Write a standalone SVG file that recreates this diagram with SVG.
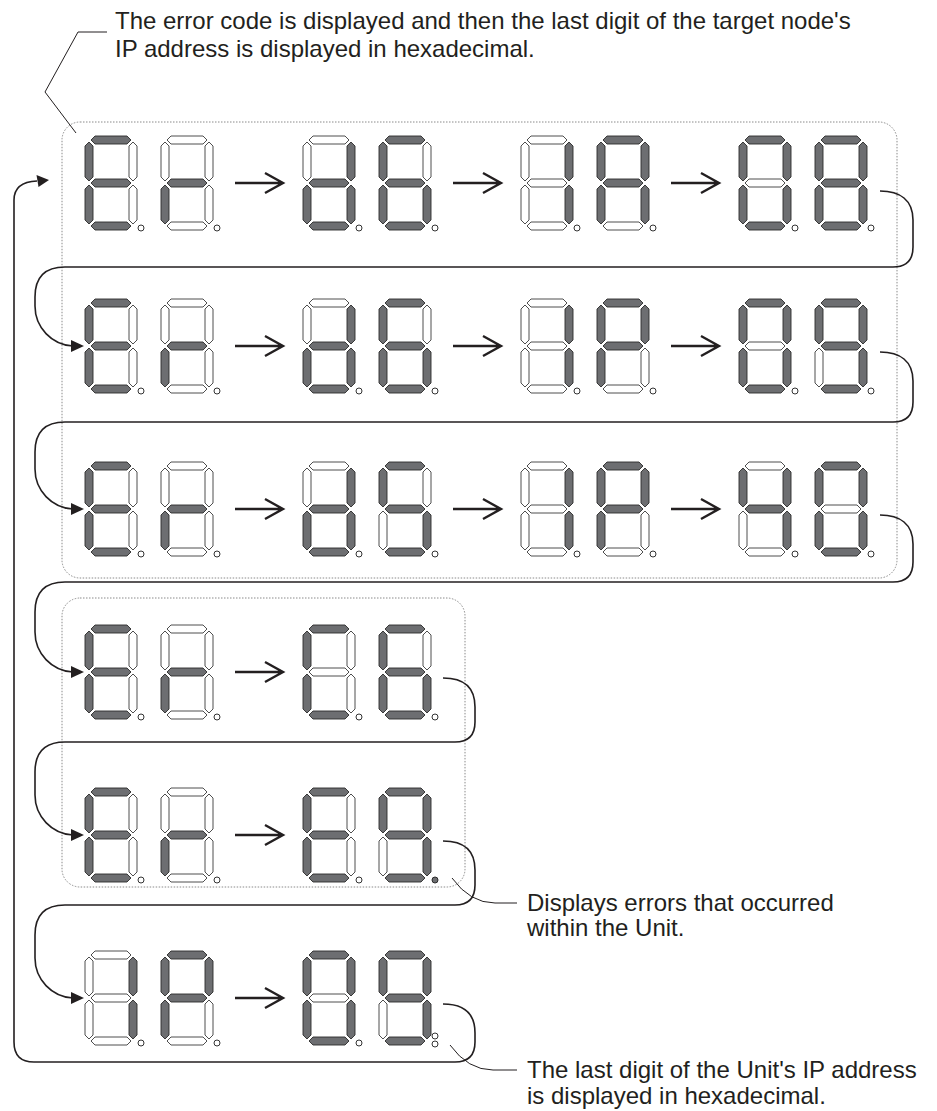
<svg xmlns="http://www.w3.org/2000/svg" xmlns:xlink="http://www.w3.org/1999/xlink" width="937" height="1111" viewBox="0 0 937 1111">
<style>
.on{fill:#6d6e71;stroke:#2b2b2b;stroke-width:0.9}
.off{fill:#fff;stroke:#3a3a3a;stroke-width:0.9}
.dp{fill:#fff;stroke:#333;stroke-width:1}
.dpon{fill:#6d6e71;stroke:#2b2b2b;stroke-width:1}
.con{fill:none;stroke:#231f20;stroke-width:1.6}
.arr{fill:none;stroke:#231f20;stroke-width:2.4}
.head{fill:#231f20;stroke:none}
.box{fill:none;stroke:#8a8a8a;stroke-width:1;stroke-dasharray:1.5 1.5}
.lead{fill:none;stroke:#231f20;stroke-width:1}
.txt{font-family:"Liberation Sans",Arial,sans-serif;font-size:24px;fill:#231f20}
</style>
<defs>
<polygon id="sa" points="6,4 10,0 42,0 46,4 42,8 10,8"/>
<polygon id="sg" points="6,47 10,43 42,43 46,47 42,51 10,51"/>
<polygon id="sd" points="6,90 10,86 42,86 46,90 42,94 10,94"/>
<polygon id="sf" points="4,6 8,10 8,41 4,45 0,41 0,10"/>
<polygon id="sb" points="48,6 52,10 52,41 48,45 44,41 44,10"/>
<polygon id="se" points="4,49 8,53 8,84 4,88 0,84 0,53"/>
<polygon id="sc" points="48,49 52,53 52,84 48,88 44,84 44,53"/>
<g id="ch-E"><use href="#sa" class="on"/><use href="#sb" class="off"/><use href="#sc" class="off"/><use href="#sd" class="on"/><use href="#se" class="on"/><use href="#sf" class="on"/><use href="#sg" class="on"/></g>
<g id="ch-r"><use href="#sa" class="off"/><use href="#sb" class="off"/><use href="#sc" class="off"/><use href="#sd" class="off"/><use href="#se" class="on"/><use href="#sf" class="off"/><use href="#sg" class="on"/></g>
<g id="ch-d"><use href="#sa" class="off"/><use href="#sb" class="on"/><use href="#sc" class="on"/><use href="#sd" class="on"/><use href="#se" class="on"/><use href="#sf" class="off"/><use href="#sg" class="on"/></g>
<g id="ch-6"><use href="#sa" class="on"/><use href="#sb" class="off"/><use href="#sc" class="on"/><use href="#sd" class="on"/><use href="#se" class="on"/><use href="#sf" class="on"/><use href="#sg" class="on"/></g>
<g id="ch-5"><use href="#sa" class="on"/><use href="#sb" class="off"/><use href="#sc" class="on"/><use href="#sd" class="on"/><use href="#se" class="off"/><use href="#sf" class="on"/><use href="#sg" class="on"/></g>
<g id="ch-1"><use href="#sa" class="off"/><use href="#sb" class="on"/><use href="#sc" class="on"/><use href="#sd" class="off"/><use href="#se" class="off"/><use href="#sf" class="off"/><use href="#sg" class="off"/></g>
<g id="ch-A"><use href="#sa" class="on"/><use href="#sb" class="on"/><use href="#sc" class="on"/><use href="#sd" class="off"/><use href="#se" class="on"/><use href="#sf" class="on"/><use href="#sg" class="on"/></g>
<g id="ch-P"><use href="#sa" class="on"/><use href="#sb" class="on"/><use href="#sc" class="off"/><use href="#sd" class="off"/><use href="#se" class="on"/><use href="#sf" class="on"/><use href="#sg" class="on"/></g>
<g id="ch-0"><use href="#sa" class="on"/><use href="#sb" class="on"/><use href="#sc" class="on"/><use href="#sd" class="on"/><use href="#se" class="on"/><use href="#sf" class="on"/><use href="#sg" class="off"/></g>
<g id="ch-8"><use href="#sa" class="on"/><use href="#sb" class="on"/><use href="#sc" class="on"/><use href="#sd" class="on"/><use href="#se" class="on"/><use href="#sf" class="on"/><use href="#sg" class="on"/></g>
<g id="ch-9"><use href="#sa" class="on"/><use href="#sb" class="on"/><use href="#sc" class="on"/><use href="#sd" class="on"/><use href="#se" class="off"/><use href="#sf" class="on"/><use href="#sg" class="on"/></g>
<g id="ch-4"><use href="#sa" class="off"/><use href="#sb" class="on"/><use href="#sc" class="on"/><use href="#sd" class="off"/><use href="#se" class="off"/><use href="#sf" class="on"/><use href="#sg" class="on"/></g>
<g id="ch-C"><use href="#sa" class="on"/><use href="#sb" class="off"/><use href="#sc" class="off"/><use href="#sd" class="on"/><use href="#se" class="on"/><use href="#sf" class="on"/><use href="#sg" class="off"/></g>
</defs>
<rect width="937" height="1111" fill="#fff"/>

<g id="boxes">
<rect class="box" x="62" y="122" width="835" height="456" rx="18"/>
<rect class="box" x="62" y="598" width="403" height="289" rx="18"/>
</g>

<g id="r1p1"><use href="#ch-E" x="85" y="136"/><use href="#ch-r" x="161" y="136"/><circle class="dp" cx="141" cy="228" r="3"/><circle class="dp" cx="217" cy="228" r="3"/></g>
<g id="r1p2"><use href="#ch-d" x="303" y="136"/><use href="#ch-6" x="379" y="136"/><circle class="dp" cx="359" cy="228" r="3"/><circle class="dp" cx="435" cy="228" r="3"/></g>
<g id="r1p3"><use href="#ch-1" x="521" y="136"/><use href="#ch-A" x="597" y="136"/><circle class="dp" cx="577" cy="228" r="3"/><circle class="dp" cx="653" cy="228" r="3"/></g>
<g id="r1p4"><use href="#ch-0" x="739" y="136"/><use href="#ch-8" x="815" y="136"/><circle class="dp" cx="795" cy="228" r="3"/><circle class="dp" cx="871" cy="228" r="3"/></g>

<g id="r2p1"><use href="#ch-E" x="85" y="299"/><use href="#ch-r" x="161" y="299"/><circle class="dp" cx="141" cy="391" r="3"/><circle class="dp" cx="217" cy="391" r="3"/></g>
<g id="r2p2"><use href="#ch-d" x="303" y="299"/><use href="#ch-6" x="379" y="299"/><circle class="dp" cx="359" cy="391" r="3"/><circle class="dp" cx="435" cy="391" r="3"/></g>
<g id="r2p3"><use href="#ch-1" x="521" y="299"/><use href="#ch-P" x="597" y="299"/><circle class="dp" cx="577" cy="391" r="3"/><circle class="dp" cx="653" cy="391" r="3"/></g>
<g id="r2p4"><use href="#ch-0" x="739" y="299"/><use href="#ch-9" x="815" y="299"/><circle class="dp" cx="795" cy="391" r="3"/><circle class="dp" cx="871" cy="391" r="3"/></g>

<g id="r3p1"><use href="#ch-E" x="85" y="462"/><use href="#ch-r" x="161" y="462"/><circle class="dp" cx="141" cy="554" r="3"/><circle class="dp" cx="217" cy="554" r="3"/></g>
<g id="r3p2"><use href="#ch-d" x="303" y="462"/><use href="#ch-5" x="379" y="462"/><circle class="dp" cx="359" cy="554" r="3"/><circle class="dp" cx="435" cy="554" r="3"/></g>
<g id="r3p3"><use href="#ch-1" x="521" y="462"/><use href="#ch-P" x="597" y="462"/><circle class="dp" cx="577" cy="554" r="3"/><circle class="dp" cx="653" cy="554" r="3"/></g>
<g id="r3p4"><use href="#ch-4" x="739" y="462"/><use href="#ch-0" x="815" y="462"/><circle class="dp" cx="795" cy="554" r="3"/><circle class="dp" cx="871" cy="554" r="3"/></g>

<g id="r4p1"><use href="#ch-E" x="85" y="625"/><use href="#ch-r" x="161" y="625"/><circle class="dp" cx="141" cy="717" r="3"/><circle class="dp" cx="217" cy="717" r="3"/></g>
<g id="r4p2"><use href="#ch-C" x="303" y="625"/><use href="#ch-6" x="379" y="625"/><circle class="dp" cx="359" cy="717" r="3"/><circle class="dp" cx="435" cy="717" r="3"/></g>

<g id="r5p1"><use href="#ch-E" x="85" y="788"/><use href="#ch-r" x="161" y="788"/><circle class="dp" cx="141" cy="880" r="3"/><circle class="dp" cx="217" cy="880" r="3"/></g>
<g id="r5p2"><use href="#ch-E" x="303" y="788"/><use href="#ch-9" x="379" y="788"/><circle class="dp" cx="359" cy="880" r="3"/><circle class="dpon" cx="435" cy="880" r="3"/></g>

<g id="r6p1"><use href="#ch-1" x="85" y="951"/><use href="#ch-P" x="161" y="951"/><circle class="dp" cx="141" cy="1043" r="3"/><circle class="dp" cx="217" cy="1043" r="3"/></g>
<g id="r6p2"><use href="#ch-0" x="303" y="951"/><use href="#ch-9" x="379" y="951"/><circle class="dp" cx="359" cy="1043" r="3"/><circle class="dp" cx="435" cy="1036" r="3"/><circle class="dp" cx="435" cy="1044" r="3"/></g>

<g id="connectors">
<path class="arr" d="M235,183 H283 M265,173 L283,183 L265,193 M453,183 H501 M483,173 L501,183 L483,193 M671,183 H719 M701,173 L719,183 L701,193"/>
<path class="arr" d="M235,346 H283 M265,336 L283,346 L265,356 M453,346 H501 M483,336 L501,346 L483,356 M671,346 H719 M701,336 L719,346 L701,356"/>
<path class="arr" d="M235,509 H283 M265,499 L283,509 L265,519 M453,509 H501 M483,499 L501,509 L483,519 M671,509 H719 M701,499 L719,509 L701,519"/>
<path class="arr" d="M235,672 H283 M265,662 L283,672 L265,682"/>
<path class="arr" d="M235,835 H283 M265,825 L283,835 L265,845"/>
<path class="arr" d="M235,998 H283 M265,988 L283,998 L265,1008"/>

<path class="con" d="M880,191 C900,191 913,200 913,220 L913,247 Q913,267 893,267 L65,267 Q35,267 35,297 L35,306 A40,40 0 0 0 73,346"/>
<polygon class="head" points="84,346 71,340 71,352"/>
<path class="con" d="M880,352 C900,352 913,361 913,381 L913,402 Q913,422 893,422 L65,422 Q35,422 35,452 L35,469 A40,40 0 0 0 73,509"/>
<polygon class="head" points="84,509 71,503 71,515"/>
<path class="con" d="M880,515 C900,515 913,524 913,544 L913,562 Q913,582 893,582 L65,582 Q35,582 35,612 L35,632 A40,40 0 0 0 73,672"/>
<polygon class="head" points="84,672 71,666 71,678"/>
<path class="con" d="M443,678 C463,678 475,687 475,707 L475,722 Q475,742 455,742 L65,742 Q35,742 35,772 L35,795 A40,40 0 0 0 73,835"/>
<polygon class="head" points="84,835 71,829 71,841"/>
<path class="con" d="M443,841 C463,841 475,850 475,870 L475,885 Q475,905 455,905 L65,905 Q35,905 35,935 L35,958 A40,40 0 0 0 73,998"/>
<polygon class="head" points="84,998 71,992 71,1004"/>
<path class="con" d="M443,1004 C463,1004 475,1013 475,1033 L475,1042 Q475,1062 455,1062 L34,1062 Q14,1062 14,1042 L14,200 Q14,182 37,181"/>
<polygon class="head" points="49,180 36.5,175 38.5,187"/>
</g>

<g id="notes">
<polyline class="lead" points="107,32 78,32 45,92 76,133"/>
<text class="txt" x="115" y="29">The error code is displayed and then the last digit of the target node's</text>
<text class="txt" x="115" y="57">IP address is displayed in hexadecimal.</text>
<path class="lead" d="M452,878 Q470,903 495,903 L517,903"/>
<text class="txt" x="527" y="911">Displays errors that occurred</text>
<text class="txt" x="527" y="936">within the Unit.</text>
<path class="lead" d="M450,1045 Q468,1070 493,1070 L517,1070"/>
<text class="txt" x="527" y="1078">The last digit of the Unit's IP address</text>
<text class="txt" x="527" y="1104">is displayed in hexadecimal.</text>
</g>
</svg>
